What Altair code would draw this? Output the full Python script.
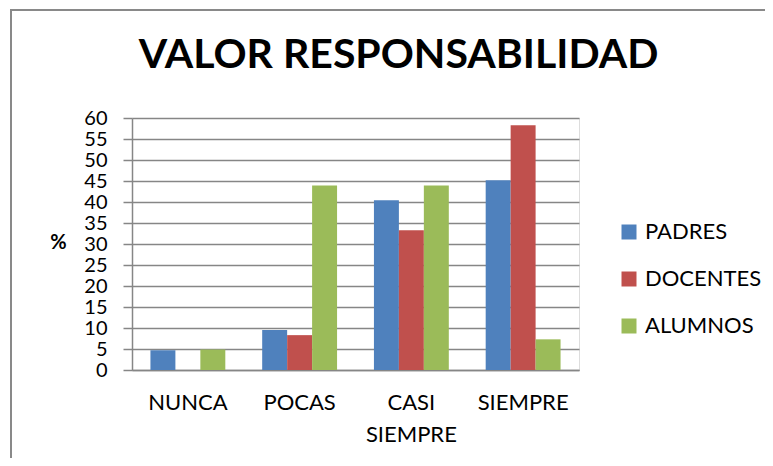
import altair as alt
import pandas as pd

categories = ["NUNCA", "POCAS", "CASI SIEMPRE", "SIEMPRE"]
series = ["PADRES", "DOCENTES", "ALUMNOS"]
padres = [4.7, 9.5, 40.4, 45.2]
docentes = [0.0, 8.3, 33.3, 58.3]
alumnos = [4.9, 43.9, 43.9, 7.3]
colors = ["#4F81BD", "#C0504D", "#9BBB59"]
y_ticks = list(range(0, 61, 5))

rows = []
for name, vals in zip(series, [padres, docentes, alumnos]):
    for c, v in zip(categories, vals):
        rows.append({"cat": c, "serie": name, "valor": v})
df = pd.DataFrame(rows)

FONT = "Lato"
GRID = "#868686"

bars = alt.Chart(df).mark_bar().encode(
    x=alt.X("cat:N", sort=categories,
            scale=alt.Scale(paddingInner=0.33, paddingOuter=0.165),
            axis=alt.Axis(title=None, labelAngle=0, labelFontSize=22, labelFont=FONT,
                          labelColor="#000000", ticks=False, domainColor=GRID,
                          domainWidth=1.5, labelPadding=22, labelLineHeight=32,
                          labelExpr="split(datum.label, ' ')")),
    xOffset=alt.XOffset("serie:N", sort=series, scale=alt.Scale(paddingInner=0, paddingOuter=0)),
    y=alt.Y("valor:Q", scale=alt.Scale(domain=[0, 60], nice=False),
            axis=alt.Axis(values=y_ticks, title="%", titleAngle=0, titleFontSize=20,
                          titleFont=FONT, titleFontWeight="bold", titleColor="#000000",
                          titleX=-74, titleY=134, labelFontSize=20, labelFont=FONT,
                          labelColor="#000000", labelOverlap=False, labelBound=False,
                          tickSize=9, tickColor=GRID, tickWidth=1.5,
                          gridColor=GRID, gridWidth=1.5, domainColor=GRID, domainWidth=1.5,
                          labelPadding=16)),
    color=alt.Color("serie:N", sort=series, scale=alt.Scale(domain=series, range=colors),
                    legend=alt.Legend(title=None, orient="none", legendX=486, legendY=103,
                                      symbolType="square", symbolSize=225, symbolStrokeWidth=0,
                                      labelFontSize=22, labelFont=FONT, labelColor="#000000",
                                      rowPadding=25, labelOffset=5)),
)

one = pd.DataFrame({"a": [0]})
frame_left = alt.Chart(one).mark_rule(color="#898989", strokeWidth=2).encode(
    x=alt.value(-121), y=alt.value(-108), y2=alt.value(2000))
frame_top = alt.Chart(one).mark_rule(color="#898989", strokeWidth=2).encode(
    x=alt.value(-122), x2=alt.value(2000), y=alt.value(-108))

chart = alt.layer(frame_left, frame_top, bars).properties(
    width=447, height=252,
    autosize=alt.AutoSizeParams(type="none"),
    padding={"left": 124, "top": 110, "right": 186, "bottom": 88},
    title=alt.Title("VALOR RESPONSABILIDAD", fontSize=41, font=FONT, fontWeight="bold",
                    color="#000000", anchor="middle", frame="group", dx=43, offset=-68),
).configure_view(stroke=None).configure(background="#FFFFFF")

chart.save("out.html", embed_options={"renderer": "svg", "actions": False})
